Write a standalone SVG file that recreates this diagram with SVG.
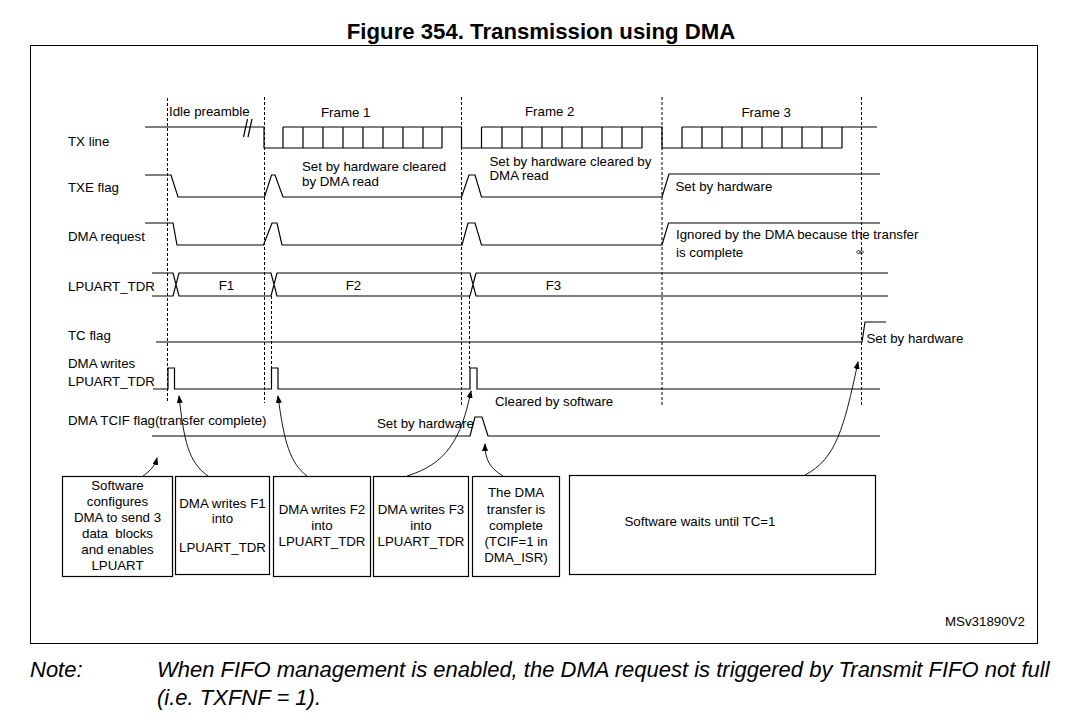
<svg xmlns="http://www.w3.org/2000/svg" width="1068" height="719" viewBox="0 0 1068 719">
<defs>
<style>
text{font-family:"Liberation Sans",Arial,sans-serif;font-size:13.3px;fill:#000}
.title{font-size:22.2px;font-weight:bold}
.note{font-size:22px;font-style:italic}
.c{text-anchor:middle}
.w{fill:none;stroke:#000;stroke-width:1.2}
.d{fill:none;stroke:#000;stroke-width:1;stroke-dasharray:3,2}
.b{fill:#fff;stroke:#000;stroke-width:1.2}
.a{fill:none;stroke:#000;stroke-width:0.9;marker-end:url(#ah)}
</style>
<marker id="ah" viewBox="0 0 8 6" refX="7" refY="3" markerWidth="8" markerHeight="6" markerUnits="userSpaceOnUse" orient="auto">
<path d="M0,0 L8,3 L0,6 z" fill="#000"/>
</marker>
</defs>
<rect width="1068" height="719" fill="#fff"/>
<text class="title c" x="541" y="39">Figure 354. Transmission using DMA</text>
<rect x="30.5" y="45.5" width="1007" height="598" fill="none" stroke="#000" stroke-width="1"/>

<g id="labels">
<text x="68" y="145.5">TX line</text>
<text x="68" y="191.5">TXE flag</text>
<text x="68" y="240.5">DMA request</text>
<text x="68" y="290.5">LPUART_TDR</text>
<text x="68" y="339.5">TC flag</text>
<text x="68" y="367.5">DMA writes</text>
<text x="68" y="385.5">LPUART_TDR</text>
<text x="68" y="424.5">DMA TCIF flag(transfer complete)</text>
</g>

<g id="dashed">
<path class="d" d="M167.5,98V403 M264.5,97V403 M271.5,296V368 M461.5,97V405 M469.5,296V368 M662,97V405 M861.5,97V405"/>
</g>

<g id="tx-line">
<path class="w" d="M145,127H264V148H442 M283,127H461.5V148H642 M481.5,127H662V148H842 M682,127H877"/>
<path class="w" d="M283,127V148 M303,127V148 M323,127V148 M343,127V148 M363,127V148 M383,127V148 M403,127V148 M423,127V148 M442,127V148"/>
<path class="w" d="M481.5,127V148 M502,127V148 M522,127V148 M542,127V148 M562,127V148 M582,127V148 M602,127V148 M622,127V148 M642,127V148"/>
<path class="w" d="M682,127V148 M702,127V148 M722,127V148 M742,127V148 M762,127V148 M782,127V148 M802,127V148 M822,127V148 M842,127V148"/>
<path class="w" d="M243.5,137L247.5,119 M248,137L252,119"/>
<text x="169" y="115.5">Idle preamble</text>
<text x="321" y="117">Frame 1</text>
<text x="525" y="116">Frame 2</text>
<text x="741.5" y="116.5">Frame 3</text>
</g>

<g id="txe-flag">
<path class="w" d="M145,175H171L178,197H264.5L271.5,175H275L283,197H461.5L469,175H475L481.5,197H662L669,174H880"/>
<text x="302" y="171">Set by hardware cleared</text>
<text x="302" y="186">by DMA read</text>
<text x="489.5" y="165.5">Set by hardware cleared by</text>
<text x="489.5" y="180">DMA read</text>
<text x="675.5" y="191">Set by hardware</text>
</g>

<g id="dma-request">
<path class="w" d="M145,223H173L177,245H263.5L272,223H277L282,245H462L468,223H475L481.5,245H662L668.5,223H880"/>
<text x="676" y="239">Ignored by the DMA because the transfer</text>
<text x="676" y="256.5">is complete</text>
<path d="M858.5,250.5a1.6,1.6 0 1,0 0.1,0 M861.6,250.5a1.6,1.6 0 1,0 0.1,0" fill="none" stroke="#000" stroke-width="0.8"/>
</g>

<g id="lpuart-tdr">
<path class="w" d="M152,273H173L179,296H271L277,273H470L476,296H888 M152,296H173L179,273H271L277,296H470L476,273H888"/>
<text class="c" x="226.5" y="289.5">F1</text>
<text class="c" x="353.5" y="289.5">F2</text>
<text class="c" x="553.5" y="289.5">F3</text>
</g>

<g id="tc-flag">
<path class="w" d="M156,342H862L865,322H886"/>
<text x="866.5" y="343">Set by hardware</text>
</g>

<g id="dma-writes">
<path class="w" d="M153,389H168V368H174.5V389H271.5V368H278V389H470V368H477V389H880"/>
</g>

<g id="tcif-flag">
<path class="w" d="M152,436H470L475,417H482L488,436H880"/>
<text x="377" y="428">Set by hardware</text>
<text x="495" y="406">Cleared by software</text>
</g>

<g id="box-sw-config">
<rect class="b" x="62.5" y="476.5" width="110" height="100"/>
<text class="c" x="117.5" y="490">Software</text>
<text class="c" x="117.5" y="506">configures</text>
<text class="c" x="117.5" y="522">DMA to send 3</text>
<text class="c" x="117.5" y="538">data&#160; blocks</text>
<text class="c" x="117.5" y="554">and enables</text>
<text class="c" x="117.5" y="570">LPUART</text>
</g>
<g id="box-f1">
<rect class="b" x="175.5" y="476.5" width="94" height="98"/>
<text class="c" x="222.5" y="508">DMA writes F1</text>
<text class="c" x="222.5" y="523">into</text>
<text class="c" x="222.5" y="552">LPUART_TDR</text>
</g>
<g id="box-f2">
<rect class="b" x="273.5" y="476.5" width="97" height="100"/>
<text class="c" x="322" y="514">DMA writes F2</text>
<text class="c" x="322" y="530">into</text>
<text class="c" x="322" y="546">LPUART_TDR</text>
</g>
<g id="box-f3">
<rect class="b" x="373.5" y="476.5" width="95" height="100"/>
<text class="c" x="421" y="514">DMA writes F3</text>
<text class="c" x="421" y="530">into</text>
<text class="c" x="421" y="546">LPUART_TDR</text>
</g>
<g id="box-complete">
<rect class="b" x="472.5" y="476.5" width="87" height="100"/>
<text class="c" x="516" y="497">The DMA</text>
<text class="c" x="516" y="513.5">transfer is</text>
<text class="c" x="516" y="530">complete</text>
<text class="c" x="516" y="546">(TCIF=1 in</text>
<text class="c" x="516" y="562">DMA_ISR)</text>
</g>
<g id="box-wait">
<rect class="b" x="569.5" y="475.5" width="306" height="99"/>
<text x="624.5" y="526">Software waits until TC=1</text>
</g>

<g id="connectors">
<path class="a" d="M143,476C150,471 155,466 157,458"/>
<path class="a" d="M208,476C188,462 184,440 179,396"/>
<path class="a" d="M307,476C290,463 284,442 278,396"/>
<path class="a" d="M407,476C446,464 461,440 471,391"/>
<path class="a" d="M503,476C490,468 485,460 485,444"/>
<path class="a" d="M805,475C836,459 844,428 858,362"/>
</g>

<text x="945" y="626">MSv31890V2</text>

<g id="note">
<text class="note" x="30" y="677">Note:</text>
<text class="note" x="157" y="677">When FIFO management is enabled, the DMA request is triggered by Transmit FIFO not full</text>
<text class="note" x="157" y="705">(i.e. TXFNF = 1).</text>
</g>
</svg>
